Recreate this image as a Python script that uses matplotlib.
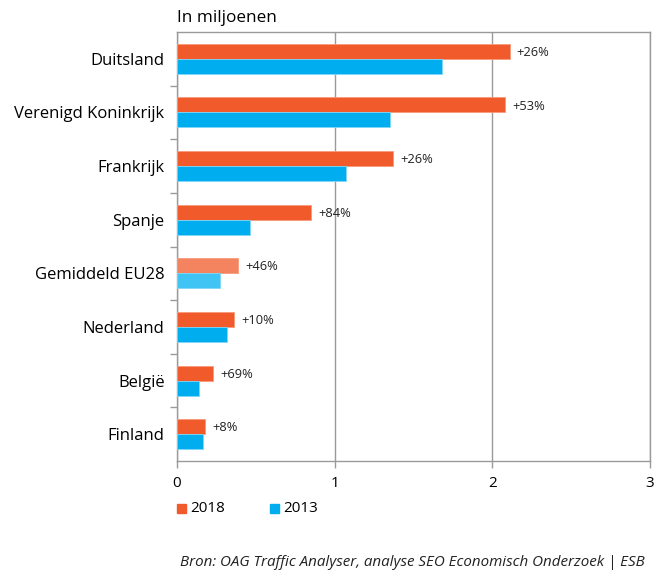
import matplotlib
matplotlib.use("Agg")
import matplotlib.pyplot as plt
from matplotlib.patches import Rectangle

categories = ["Duitsland", "Verenigd Koninkrijk", "Frankrijk", "Spanje",
              "Gemiddeld EU28", "Nederland", "België", "Finland"]
values_2018 = [2.11, 2.08, 1.37, 0.85, 0.39, 0.36, 0.23, 0.18]
values_2013 = [1.68, 1.35, 1.07, 0.46, 0.27, 0.32, 0.14, 0.165]
growth_labels = ["+26%", "+53%", "+26%", "+84%", "+46%", "+10%", "+69%", "+8%"]
xticks = [0, 1, 2, 3]

plt.rcParams['font.family'] = ['Open Sans', 'DejaVu Sans']

ORANGE = "#F15A2B"
BLUE = "#00AEEF"
ORANGE_L = "#F4845F"
BLUE_L = "#40C4F4"
GRID = "#9A9A9A"

fig = plt.figure(figsize=(6.57, 5.78), dpi=100)
ax = fig.add_axes([177/657, 1-461/578, (650-177)/657, (461-32)/578])

n = len(categories)
h = 0.28
for i, cat in enumerate(categories):
    y = i
    oc = ORANGE_L if cat == "Gemiddeld EU28" else ORANGE
    bc = BLUE_L if cat == "Gemiddeld EU28" else BLUE
    ax.barh(y - h/2, values_2018[i], height=h, color=oc, edgecolor="#F79A7A", linewidth=0.6, zorder=3)
    ax.barh(y + h/2, values_2013[i], height=h, color=bc, edgecolor="#7FD6F7", linewidth=0.6, zorder=3)
    ax.text(values_2018[i] + 0.045, y - h/2 + 0.02, growth_labels[i], va="center", ha="left",
            fontsize=9.3, color="#222222")

ax.set_ylim(n - 0.5, -0.5)
ax.set_xlim(0, 3)
ax.set_xticks(xticks)
ax.set_xticklabels([str(t) for t in xticks], fontsize=11)
ax.set_yticks(range(n))
ax.set_yticklabels(categories, fontsize=12)
ax.tick_params(axis='y', length=0, pad=9)
ax.set_yticks([i + 0.5 for i in range(n - 1)], minor=True)
ax.tick_params(axis='y', which='minor', length=5, color=GRID, width=1)
ax.tick_params(axis='x', length=5, color=GRID, width=1, pad=6)
ax.grid(axis='x', color=GRID, linewidth=1, zorder=0)
for s in ax.spines.values():
    s.set_color(GRID)
    s.set_linewidth(1)

fig.text(177/657, 1-18/578, "In miljoenen", fontsize=12.3, va="center", ha="left")

# legend
lx = [177, 270]
labels_leg = ["2018", "2013"]
cols = [ORANGE, BLUE]
for x0, lab, c in zip(lx, labels_leg, cols):
    fig.patches.append(Rectangle((x0/657, 1-513/578), 9/657, 9/578, transform=fig.transFigure,
                                 color=c, figure=fig))
    fig.text((x0+13)/657, 1-508/578, lab, fontsize=11, va="center", ha="left")

fig.text(645/657, 1-562/578, "Bron: OAG Traffic Analyser, analyse SEO Economisch Onderzoek | ESB",
         fontsize=10.9, style="italic", va="center", ha="right", color="#222222")

fig.savefig("out.png", dpi=100)
